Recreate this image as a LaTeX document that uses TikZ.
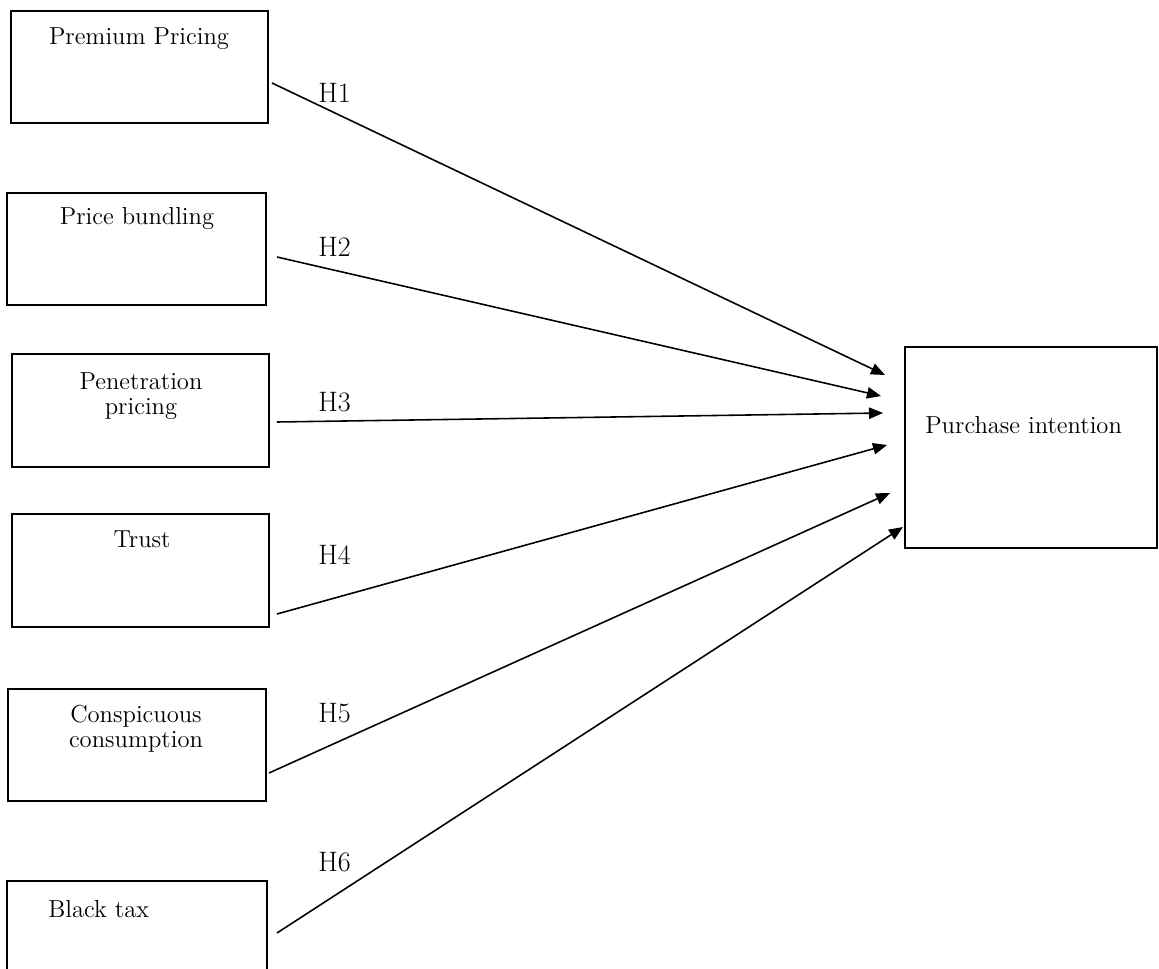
\documentclass[tikz,border=0pt]{standalone}
\usepackage{tikz}
\usetikzlibrary{arrows.meta}

\tikzset{
    box/.style={draw, line width=1.1pt, inner sep=0pt, outer sep=0pt},
    txt/.style={font=\fontsize{14}{14.2}\selectfont, inner sep=0pt, align=center},
    hlbl/.style={font=\fontsize{16}{18}\selectfont, inner sep=0pt, anchor=north west},
    hyp/.style={line width=0.9pt, -{Triangle[length=8pt,width=6.5pt]}}
}

\begin{document}
\begin{tikzpicture}[x=0.02cm, y=-0.02cm]
    \useasboundingbox (0,0) rectangle (1159,969);

    % Predictor boxes
    \node[box, minimum width=5.14cm, minimum height=2.24cm] (pp) at (139.5,67) {};
    \node[box, minimum width=5.18cm, minimum height=2.24cm] (pb) at (136.5,249) {};
    \node[box, minimum width=5.14cm, minimum height=2.26cm] (pen) at (140.5,410.5) {};
    \node[box, minimum width=5.14cm, minimum height=2.26cm] (tr) at (140.5,570.5) {};
    \node[box, minimum width=5.16cm, minimum height=2.24cm] (cc) at (137,745) {};
    \node[box, minimum width=5.20cm, minimum height=2.26cm] (bt) at (137,937.5) {};

    \node[txt, anchor=north] (ppt) at (139,27) {Premium Pricing};
    \node[txt, anchor=north] (pbt) at (137,207) {Price bundling};
    \node[txt, anchor=north] (pent) at (141,372) {Penetration\\pricing};
    \node[txt, anchor=north] (trt) at (142,530) {Trust};
    \node[txt, anchor=north] (cct) at (136,705) {Conspicuous\\consumption};
    \node[txt, anchor=north west] (btt) at (48,900) {Black tax};

    % Outcome box
    \node[box, minimum width=5.04cm, minimum height=4.02cm] (pi) at (1031,447.5) {};
    \node[txt, anchor=north west] (pit) at (925,416) {Purchase intention};

    % Hypotheses
    \draw[hyp] ([shift={(4,16)}]pp.east) -- ([shift={(-20,-72.5)}]pi.west);
    \draw[hyp] ([shift={(11,8)}]pb.east) -- ([shift={(-24,-51.5)}]pi.west);
    \draw[hyp] ([shift={(8,11.5)}]pen.east) -- ([shift={(-22,-34.5)}]pi.west);
    \draw[hyp] ([shift={(8,43.5)}]tr.east) -- ([shift={(-18,-2.5)}]pi.west);
    \draw[hyp] ([shift={(3,28)}]cc.east) -- ([shift={(-15,45.5)}]pi.west);
    \draw[hyp] ([shift={(10,-4.5)}]bt.east) -- ([shift={(-2,79.5)}]pi.west);

    \node[hlbl] (h1) at (318,83) {H1};
    \node[hlbl] (h2) at (318,237) {H2};
    \node[hlbl] (h3) at (318,392) {H3};
    \node[hlbl] (h4) at (318,545) {H4};
    \node[hlbl] (h5) at (318,703) {H5};
    \node[hlbl] (h6) at (318,852) {H6};
\end{tikzpicture}
\end{document}
